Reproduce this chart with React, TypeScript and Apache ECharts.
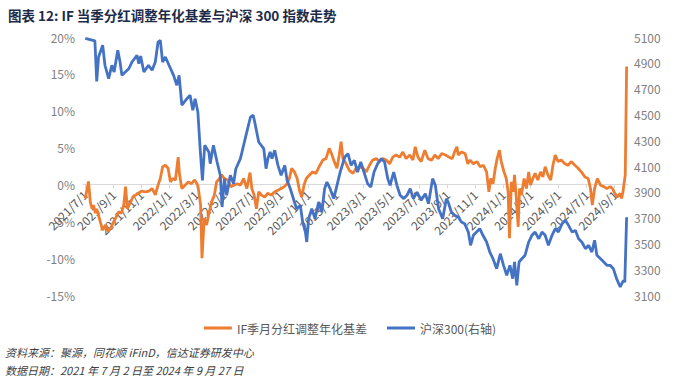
import React, { useEffect, useRef } from "react";
import * as echarts from "echarts";

const titleText = "图表 12: IF 当季分红调整年化基差与沪深 300 指数走势";
const sourceText = "资料来源：聚源，同花顺 iFinD，信达证券研发中心";
const dateText = "数据日期：2021 年 7 月 2 日至 2024 年 9 月 27 日";
const basisName = "IF季月分红调整年化基差";
const csiName = "沪深300(右轴)";

const xTickLabels = [
  "2021/7/1", "2021/9/1", "2021/11/1", "2022/1/1", "2022/3/1", "2022/5/1", "2022/7/1",
  "2022/9/1", "2022/11/1", "2023/1/1", "2023/3/1", "2023/5/1", "2023/7/1", "2023/9/1",
  "2023/11/1", "2024/1/1", "2024/3/1", "2024/5/1", "2024/7/1", "2024/9/1",
];

const basisDates = [
  "2021-07-02", "2021-07-09", "2021-07-13", "2021-07-17", "2021-07-20", "2021-07-24", "2021-07-27",
  "2021-08-04", "2021-08-09", "2021-08-15", "2021-08-21", "2021-08-26", "2021-08-31", "2021-09-06",
  "2021-09-13", "2021-09-19", "2021-09-24", "2021-09-28", "2021-10-02", "2021-10-09", "2021-10-14",
  "2021-10-20", "2021-10-26", "2021-11-02", "2021-11-11", "2021-11-18", "2021-11-25", "2021-12-02",
  "2021-12-08", "2021-12-13", "2021-12-18", "2021-12-24", "2021-12-30", "2022-01-04", "2022-01-09",
  "2022-01-15", "2022-01-21", "2022-01-24", "2022-01-29", "2022-02-05", "2022-02-12", "2022-02-19",
  "2022-02-26", "2022-03-05", "2022-03-08", "2022-03-11", "2022-03-14", "2022-03-19", "2022-03-24",
  "2022-03-30", "2022-04-04", "2022-04-10", "2022-04-15", "2022-04-21", "2022-04-26", "2022-05-02",
  "2022-05-09", "2022-05-16", "2022-05-23", "2022-05-30", "2022-06-06", "2022-06-13", "2022-06-20",
  "2022-06-27", "2022-07-01", "2022-07-06", "2022-07-11", "2022-07-16", "2022-07-22", "2022-07-29",
  "2022-08-05", "2022-08-12", "2022-08-20", "2022-08-27", "2022-09-03", "2022-09-10", "2022-09-16",
  "2022-09-21", "2022-09-26", "2022-10-02", "2022-10-08", "2022-10-13", "2022-10-18", "2022-10-23",
  "2022-10-28", "2022-11-04", "2022-11-11", "2022-11-18", "2022-11-25", "2022-12-03", "2022-12-10",
  "2022-12-17", "2022-12-22", "2022-12-28", "2023-01-03", "2023-01-08", "2023-01-12", "2023-01-16",
  "2023-01-23", "2023-01-30", "2023-02-07", "2023-02-14", "2023-02-21", "2023-03-01", "2023-03-08",
  "2023-03-15", "2023-03-22", "2023-03-30", "2023-04-06", "2023-04-13", "2023-04-21", "2023-04-28",
  "2023-05-05", "2023-05-12", "2023-05-20", "2023-05-27", "2023-06-03", "2023-06-11", "2023-06-18",
  "2023-06-23", "2023-06-29", "2023-07-06", "2023-07-14", "2023-07-21", "2023-07-29", "2023-08-05",
  "2023-08-12", "2023-08-20", "2023-08-28", "2023-09-05", "2023-09-12", "2023-09-17", "2023-09-22",
  "2023-09-25", "2023-10-02", "2023-10-10", "2023-10-16", "2023-10-21", "2023-10-28", "2023-11-05",
  "2023-11-12", "2023-11-19", "2023-11-26", "2023-12-01", "2023-12-05", "2023-12-10", "2023-12-15",
  "2023-12-19", "2023-12-24", "2023-12-28", "2024-01-03", "2024-01-08", "2024-01-12", "2024-01-15",
  "2024-01-19", "2024-01-23", "2024-01-26", "2024-01-30", "2024-02-03", "2024-02-06", "2024-02-10",
  "2024-02-16", "2024-02-21", "2024-02-26", "2024-03-01", "2024-03-06", "2024-03-11", "2024-03-17",
  "2024-03-23", "2024-03-28", "2024-04-02", "2024-04-08", "2024-04-14", "2024-04-19", "2024-04-24",
  "2024-04-30", "2024-05-07", "2024-05-15", "2024-05-22", "2024-05-29", "2024-06-06", "2024-06-13",
  "2024-06-20", "2024-06-28", "2024-07-05", "2024-07-10", "2024-07-14", "2024-07-19", "2024-07-25",
  "2024-08-01", "2024-08-08", "2024-08-15", "2024-08-22", "2024-08-27", "2024-09-01", "2024-09-07",
  "2024-09-13", "2024-09-16", "2024-09-19", "2024-09-24", "2024-09-27",
];
const basisValues = [
  -1.9, 0.4, -2.4, -3.3, -2.8, -3.9, -3.3,
  -5.1, -6.2, -5.5, -6.4, -6.0, -5.3, -4.6,
  -3.7, -3.9, -2.8, -0.3, -3.3, -2.4, -1.7,
  -1.45, -1.2, -0.9, -1.0, -0.9, -0.55, -1.4,
  -0.1, 0.8, 2.4, 2.6, 2.2, 0.35, 0.8,
  0.6, 3.7, 1.3, -0.55, -0.1, 0.35, 0.1,
  0.6, -0.1, -1.45, -2.8, -10.0, -4.6, -5.5,
  -3.7, -2.4, -1.45, 0.35, 0.8, 1.3, 0.8,
  0.6, -0.3, -0.1, 0.1, -0.1, 0.8, -0.55,
  1.6, -0.55, -1.45, -3.3, -1.0, -1.45, -1.7,
  -1.2, -1.45, -1.0, -0.8, -0.55, -0.3, 0.1,
  0.8, 2.2, 1.7, 0.8, -0.8, -1.7, -0.1,
  0.8, 1.3, 1.7, 1.5, 2.4, 3.3, 3.5,
  4.9, 4.2, 3.1, 2.2, 4.0, 5.8, 3.5,
  2.8, 1.9, 1.5, 2.2, 2.4, 2.2, 1.7,
  2.6, 3.3, 3.5, 3.1, 3.5, 3.3, 2.8,
  3.7, 4.0, 3.7, 4.4, 3.5, 4.0, 3.3,
  5.1, 3.7, 3.1, 4.65, 3.5, 3.3, 4.0,
  3.5, 4.2, 4.0, 3.7, 3.5, 4.4, 5.1,
  4.0, 4.4, 4.2, 2.8, 3.3, 2.8, 3.1,
  2.4, 2.6, 1.7, -1.0, 0.8, 0.1, 2.2,
  3.5, 4.65, 3.1, 1.7, 0.8, -1.0, -7.3,
  0.35, -1.0, 1.3, -1.9, -5.75, -0.55, -1.45,
  0.8, -0.55, 1.7, -0.1, 0.8, 1.5, 0.6,
  1.7, 1.0, 2.4, 1.3, 0.6, 2.6, 4.0,
  3.1, 3.3, 2.8, 2.6, 3.1, 2.6, 2.2,
  1.7, 1.0, 0.8, -0.55, -2.8, -0.55, 0.8,
  -0.1, -0.3, -0.55, -0.3, -0.55, -1.2, -1.7,
  -1.2, -1.9, -1.0, 1.3, 16.0,
];

const csiDates = [
  "2021-07-02", "2021-07-23", "2021-07-27", "2021-07-31", "2021-08-09", "2021-08-14", "2021-08-22",
  "2021-08-29", "2021-09-03", "2021-09-11", "2021-09-16", "2021-09-20", "2021-10-05", "2021-10-12",
  "2021-10-23", "2021-10-27", "2021-10-31", "2021-11-07", "2021-11-17", "2021-11-25", "2021-12-02",
  "2021-12-08", "2021-12-13", "2021-12-18", "2021-12-24", "2022-01-01", "2022-01-11", "2022-01-18",
  "2022-01-23", "2022-01-29", "2022-02-09", "2022-02-16", "2022-02-22", "2022-02-27", "2022-03-05",
  "2022-03-10", "2022-03-15", "2022-03-20", "2022-03-29", "2022-04-01", "2022-04-08", "2022-04-16",
  "2022-04-23", "2022-04-27", "2022-05-02", "2022-05-07", "2022-05-15", "2022-05-22", "2022-05-27",
  "2022-06-06", "2022-06-13", "2022-06-20", "2022-06-28", "2022-07-04", "2022-07-08", "2022-07-16",
  "2022-07-27", "2022-08-01", "2022-08-05", "2022-08-10", "2022-08-14", "2022-08-20", "2022-08-27",
  "2022-09-03", "2022-09-11", "2022-09-16", "2022-09-23", "2022-10-02", "2022-10-07", "2022-10-15",
  "2022-10-20", "2022-10-26", "2022-10-29", "2022-11-02", "2022-11-09", "2022-11-16", "2022-11-24",
  "2022-12-01", "2022-12-07", "2022-12-12", "2022-12-19", "2022-12-27", "2023-01-03", "2023-01-10",
  "2023-01-20", "2023-01-27", "2023-02-03", "2023-02-10", "2023-02-17", "2023-02-24", "2023-03-03",
  "2023-03-11", "2023-03-18", "2023-03-25", "2023-04-02", "2023-04-10", "2023-04-17", "2023-04-24",
  "2023-04-29", "2023-05-07", "2023-05-14", "2023-05-21", "2023-05-29", "2023-06-05", "2023-06-12",
  "2023-06-19", "2023-06-27", "2023-07-06", "2023-07-15", "2023-07-22", "2023-07-31", "2023-08-06",
  "2023-08-13", "2023-08-22", "2023-08-30", "2023-09-03", "2023-09-10", "2023-09-17", "2023-09-25",
  "2023-10-02", "2023-10-09", "2023-10-17", "2023-10-22", "2023-10-28", "2023-11-04", "2023-11-11",
  "2023-11-18", "2023-11-26", "2023-12-03", "2023-12-10", "2023-12-18", "2023-12-26", "2024-01-02",
  "2024-01-09", "2024-01-16", "2024-01-22", "2024-01-26", "2024-01-31", "2024-02-05", "2024-02-11",
  "2024-02-18", "2024-02-26", "2024-03-04", "2024-03-11", "2024-03-19", "2024-03-26", "2024-04-02",
  "2024-04-09", "2024-04-17", "2024-04-24", "2024-05-01", "2024-05-09", "2024-05-16", "2024-05-23",
  "2024-05-31", "2024-06-07", "2024-06-14", "2024-06-21", "2024-06-29", "2024-07-06", "2024-07-13",
  "2024-07-19", "2024-07-24", "2024-08-01", "2024-08-08", "2024-08-15", "2024-08-22", "2024-08-29",
  "2024-09-05", "2024-09-13", "2024-09-20", "2024-09-23", "2024-09-27",
];
const csiValues = [
  5090, 5070, 4755, 4945, 5036, 4881, 4777,
  4881, 4829, 4997, 4906, 4803, 4854, 4906,
  4958, 4893, 4953, 4829, 4881, 4842, 4906,
  5061, 5074, 4906, 4945, 4881, 4803, 4726,
  4803, 4571, 4622, 4648, 4532, 4622, 4519,
  4234, 3989, 4261, 4209, 4118, 4261, 4131,
  4028, 3782, 4002, 3873, 4028, 3963, 4079,
  4157, 4261, 4364, 4480, 4493, 4428, 4286,
  4234, 4079, 4157, 4209, 4157, 4222, 4105,
  4028, 4105, 3989, 3924, 3821, 3769, 3795,
  3666, 3588, 3511, 3692, 3769, 3692, 3821,
  3743, 3924, 3976, 3924, 3847, 3950, 4053,
  4170, 4195, 4105, 4144, 4053, 4131, 4053,
  3963, 3937, 4053, 4118, 4157, 4131, 4002,
  3950, 4053, 3950, 3873, 3847, 3873, 3924,
  3847, 3898, 3834, 3885, 3808, 4002, 3950,
  3769, 3692, 3847, 3820, 3743, 3718, 3705,
  3666, 3653, 3588, 3485, 3563, 3588, 3614,
  3563, 3511, 3433, 3381, 3304, 3420, 3330,
  3253, 3330, 3227, 3356, 3175, 3356, 3381,
  3408, 3511, 3563, 3588, 3536, 3588, 3563,
  3485, 3563, 3614, 3588, 3653, 3679, 3640,
  3588, 3601, 3536, 3511, 3459, 3485, 3433,
  3524, 3408, 3381, 3356, 3330, 3330, 3304,
  3227, 3162, 3214, 3200, 3703,
];

const toTs = (s: string) => {
  const [y, m, d] = s.split(/[-/]/).map(Number);
  return Date.UTC(y, m - 1, d);
};
const fmtDate = (v: number) => {
  const d = new Date(v);
  return `${d.getUTCFullYear()}/${d.getUTCMonth() + 1}/${d.getUTCDate()}`;
};

const FONT = "'Noto Sans CJK SC', 'Noto Sans', sans-serif";
const GRID_TOP = 37;
const GRID_BOTTOM = 86;
const CHART_H = 381;
const LEFT_MIN = -15;
const LEFT_MAX = 20;

export default function App() {
  const ref = useRef<HTMLDivElement>(null);
  useEffect(() => {
    document.body.style.margin = "0";
    if (!ref.current) return;
    const chart = echarts.init(ref.current, undefined, { renderer: "svg" });
    const tickValues = xTickLabels.map(toTs);
    const gridH = CHART_H - GRID_TOP - GRID_BOTTOM;
    // move the bottom x axis up to the 0% line of the left axis
    const zeroOffset = -(gridH * (0 - LEFT_MIN)) / (LEFT_MAX - LEFT_MIN);
    chart.setOption({
      animation: false,
      backgroundColor: "#ffffff",
      textStyle: { fontFamily: FONT },
      title: {
        text: titleText,
        left: 3,
        top: 3,
        textStyle: { fontSize: 13.5, fontWeight: "bold", color: "#1c2b48", fontFamily: FONT },
      },
      legend: {
        top: 317,
        left: "center",
        itemGap: 20,
        itemWidth: 28,
        itemHeight: 3,
        icon: "rect",
        textStyle: { fontSize: 12, color: "#595959", fontFamily: FONT },
        data: [basisName, csiName],
      },
      grid: { left: 83, right: 72, top: GRID_TOP, bottom: GRID_BOTTOM, containLabel: false },
      xAxis: {
        type: "value",
        position: "bottom",
        offset: zeroOffset,
        min: toTs("2021-06-27"),
        max: toTs("2024-09-30"),
        axisLine: { show: true, onZero: false, lineStyle: { color: "#d9d9d9", width: 1 } },
        axisTick: { show: true, length: 4, customValues: tickValues, lineStyle: { color: "#d9d9d9" } },
        axisLabel: {
          customValues: tickValues,
          rotate: 45,
          margin: 8,
          fontSize: 12,
          color: "#595959",
          formatter: (v: number) => fmtDate(v),
        },
        splitLine: { show: false },
      },
      yAxis: [
        {
          type: "value",
          min: LEFT_MIN,
          max: LEFT_MAX,
          interval: 5,
          axisLine: { show: false },
          axisTick: { show: false },
          splitLine: { show: false },
          axisLabel: { formatter: "{value}%", fontSize: 12, color: "#7f7f7f", margin: 8 },
        },
        {
          type: "value",
          min: 3100,
          max: 5100,
          interval: 100,
          position: "right",
          axisLine: { show: false },
          axisTick: { show: false },
          splitLine: { show: false },
          axisLabel: {
            fontSize: 12,
            color: "#7f7f7f",
            margin: 6,
            formatter: (v: number) => ((v - 3100) % 200 === 0 ? String(v) : ""),
          },
        },
      ],
      series: [
        {
          name: basisName,
          type: "line",
          yAxisIndex: 0,
          symbol: "none",
          lineStyle: { color: "#ED7D31", width: 2.8 },
          itemStyle: { color: "#ED7D31" },
          data: basisDates.map((d, i) => [toTs(d), basisValues[i]]),
        },
        {
          name: csiName,
          type: "line",
          yAxisIndex: 1,
          symbol: "none",
          lineStyle: { color: "#4472C4", width: 2.8 },
          itemStyle: { color: "#4472C4" },
          data: csiDates.map((d, i) => [toTs(d), csiValues[i]]),
        },
      ],
      graphic: [
        {
          type: "text",
          left: 5,
          top: 346,
          style: { text: sourceText, fontSize: 11, fontStyle: "italic", fill: "#404040", fontFamily: FONT },
        },
        {
          type: "text",
          left: 5,
          top: 364,
          style: { text: dateText, fontSize: 11, fontStyle: "italic", fill: "#404040", fontFamily: FONT },
        },
      ],
    });
    return () => chart.dispose();
  }, []);
  return <div ref={ref} style={{ width: 700, height: 381 }} />;
}
